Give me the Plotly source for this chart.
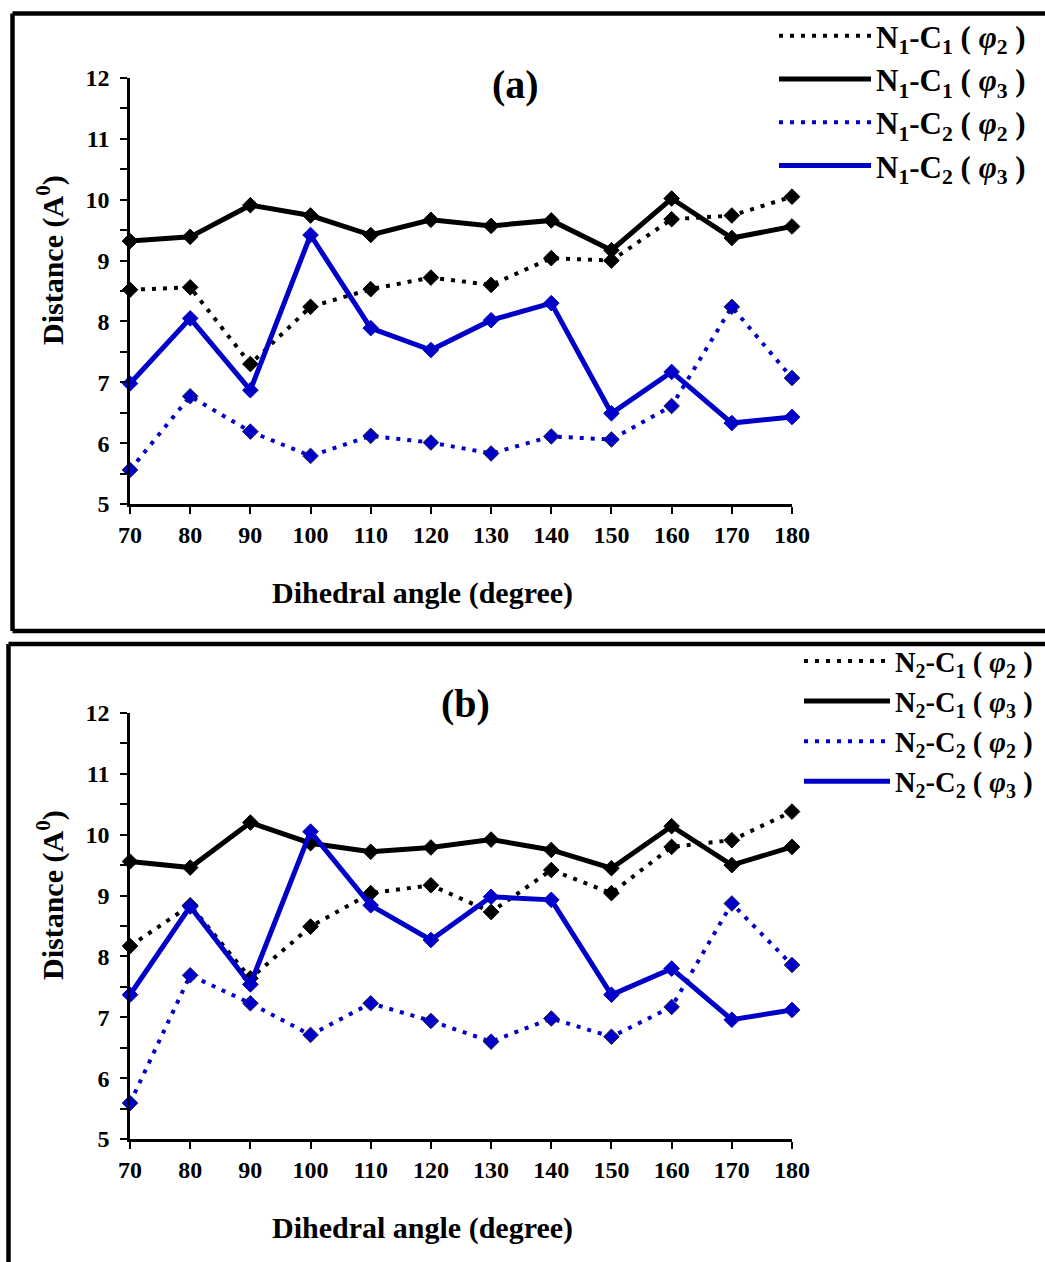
import plotly.graph_objects as go

W, H = 1045, 1262

angles = [70, 80, 90, 100, 110, 120, 130, 140, 150, 160, 170, 180]

# Panel (a)
a_n1c1_phi2 = [8.52, 8.56, 7.30, 8.24, 8.53, 8.72, 8.60, 9.04, 9.00, 9.68, 9.74, 10.05]
a_n1c1_phi3 = [9.32, 9.39, 9.91, 9.74, 9.42, 9.67, 9.57, 9.66, 9.17, 10.02, 9.37, 9.56]
a_n1c2_phi2 = [5.56, 6.77, 6.19, 5.79, 6.12, 6.01, 5.83, 6.11, 6.06, 6.61, 8.24, 7.07]
a_n1c2_phi3 = [6.98, 8.05, 6.87, 9.42, 7.89, 7.53, 8.02, 8.30, 6.49, 7.17, 6.33, 6.43]

# Panel (b)
b_n2c1_phi2 = [8.17, 8.84, 7.64, 8.49, 9.04, 9.17, 8.73, 9.42, 9.04, 9.80, 9.91, 10.38]
b_n2c1_phi3 = [9.56, 9.46, 10.20, 9.86, 9.72, 9.79, 9.92, 9.75, 9.45, 10.14, 9.50, 9.80]
b_n2c2_phi2 = [5.59, 7.69, 7.23, 6.71, 7.23, 6.94, 6.60, 6.98, 6.68, 7.17, 8.87, 7.86]
b_n2c2_phi3 = [7.37, 8.82, 7.54, 10.05, 8.84, 8.27, 8.98, 8.93, 7.37, 7.80, 6.96, 7.12]

labels_a = ["N<sub>1</sub>-C<sub>1</sub> ( <i>φ</i><sub>2</sub> )",
            "N<sub>1</sub>-C<sub>1</sub> ( <i>φ</i><sub>3</sub> )",
            "N<sub>1</sub>-C<sub>2</sub> ( <i>φ</i><sub>2</sub> )",
            "N<sub>1</sub>-C<sub>2</sub> ( <i>φ</i><sub>3</sub> )"]
labels_b = ["N<sub>2</sub>-C<sub>1</sub> ( <i>φ</i><sub>2</sub> )",
            "N<sub>2</sub>-C<sub>1</sub> ( <i>φ</i><sub>3</sub> )",
            "N<sub>2</sub>-C<sub>2</sub> ( <i>φ</i><sub>2</sub> )",
            "N<sub>2</sub>-C<sub>2</sub> ( <i>φ</i><sub>3</sub> )"]

y_ticks = [5, 6, 7, 8, 9, 10, 11, 12]
x_ticks = angles

BLACK = "#000000"
BLUE = "#0000C8"
DOT = "4px,7px"
FONT = "Liberation Serif"

def px_x(t):
    return t / W

def px_y(t):
    return 1 - t / H

fig = go.Figure()

styles = [
    (BLACK, DOT, 4, BLACK, BLACK),
    (BLACK, "solid", 5, BLACK, BLACK),
    (BLUE, DOT, 4, BLUE, "#202040"),
    (BLUE, "solid", 5, BLUE, BLUE),
]

panels = [
    ("x", "y", "legend", [a_n1c1_phi2, a_n1c1_phi3, a_n1c2_phi2, a_n1c2_phi3], labels_a),
    ("x2", "y2", "legend2", [b_n2c1_phi2, b_n2c1_phi3, b_n2c2_phi2, b_n2c2_phi3], labels_b),
]

for xa, ya, leg, series, labels in panels:
    for vals, lab, (col, dash, lw, mcol, mline) in zip(series, labels, styles):
        fig.add_trace(go.Scatter(
            x=angles, y=vals, xaxis=xa, yaxis=ya, mode="lines+markers",
            line=dict(color=col, width=lw, dash=dash),
            marker=dict(symbol="diamond", size=12, color=mcol,
                        line=dict(color=mline, width=1)),
            showlegend=False, name=lab, cliponaxis=False))
    # legend-only entries (lines without markers)
    for lab, (col, dash, lw, mcol, mline) in zip(labels, styles):
        fig.add_trace(go.Scatter(
            x=[None], y=[None], xaxis=xa, yaxis=ya, mode="lines",
            line=dict(color=col, width=lw, dash=dash),
            name=lab, legend=leg, showlegend=True))

axis_common = dict(
    showgrid=False, zeroline=False, showline=True, linecolor="black", linewidth=2.5,
    ticks="outside", tickcolor="black", tickwidth=2, ticklen=7,
    tickfont=dict(family=FONT, size=24, color="black", weight="bold"),
)
minor = dict(dtick=0.5, ticks="outside", ticklen=7, tickwidth=2, tickcolor="black")

xdom = [px_x(130), px_x(792)]
fig.update_layout(
    width=W, height=H, margin=dict(l=0, r=0, t=0, b=0, autoexpand=False),
    paper_bgcolor="white", plot_bgcolor="white",
    xaxis=dict(domain=xdom, range=[70, 180], tickvals=x_ticks, anchor="y", **axis_common),
    yaxis=dict(domain=[px_y(504), px_y(78)], range=[5, 12], tickvals=y_ticks, anchor="x",
               minor=minor, ticklabelstandoff=6, **axis_common),
    xaxis2=dict(domain=xdom, range=[70, 180], tickvals=x_ticks, anchor="y2", **axis_common),
    yaxis2=dict(domain=[px_y(1139), px_y(713)], range=[5, 12], tickvals=y_ticks, anchor="x2",
                minor=minor, ticklabelstandoff=6, **axis_common),
    legend=dict(x=px_x(774), y=px_y(9), xanchor="left", yanchor="top",
                bgcolor="rgba(0,0,0,0)", itemwidth=92, tracegroupgap=0,
                font=dict(family=FONT, size=31, color="black", weight="bold")),
    legend2=dict(x=px_x(799), y=px_y(636), xanchor="left", yanchor="top",
                 bgcolor="rgba(0,0,0,0)", itemwidth=86, tracegroupgap=0,
                 font=dict(family=FONT, size=28.5, color="black", weight="bold")),
)

ann_font = dict(family=FONT, size=30, color="black", weight="bold")
label_font = dict(family=FONT, size=40, color="black", weight="bold")
annotations = [
    dict(text="Dihedral angle (degree)", x=px_x(422), y=px_y(593)),
    dict(text="Dihedral angle (degree)", x=px_x(422), y=px_y(1228)),
    dict(text="Distance (A<sup>0</sup>)", x=px_x(50), y=px_y(260), textangle=-90),
    dict(text="Distance (A<sup>0</sup>)", x=px_x(50), y=px_y(895), textangle=-90),
    dict(text="(a)", x=px_x(515), y=px_y(84), font=label_font),
    dict(text="(b)", x=px_x(465), y=px_y(703), font=label_font),
]
for a in annotations:
    a.setdefault("font", ann_font)
    fig.add_annotation(xref="paper", yref="paper", xanchor="center", yanchor="middle",
                       showarrow=False, **a)

# panel frames
frame = dict(color="black", width=4.5)
frame_lines = [
    # panel (a): top, left, bottom
    (12.5, 13.5, W, 13.5),
    (12.5, 13.5, 12.5, 631),
    (12.5, 631, W, 631),
    # panel (b): top, left
    (8.5, 644, W, 644),
    (8.5, 644, 8.5, H),
]
for x0, y0, x1, y1 in frame_lines:
    fig.add_shape(type="line", xref="paper", yref="paper",
                  x0=px_x(x0), y0=px_y(y0), x1=px_x(x1), y1=px_y(y1),
                  line=frame, layer="below")

fig.write_html("out.html")
